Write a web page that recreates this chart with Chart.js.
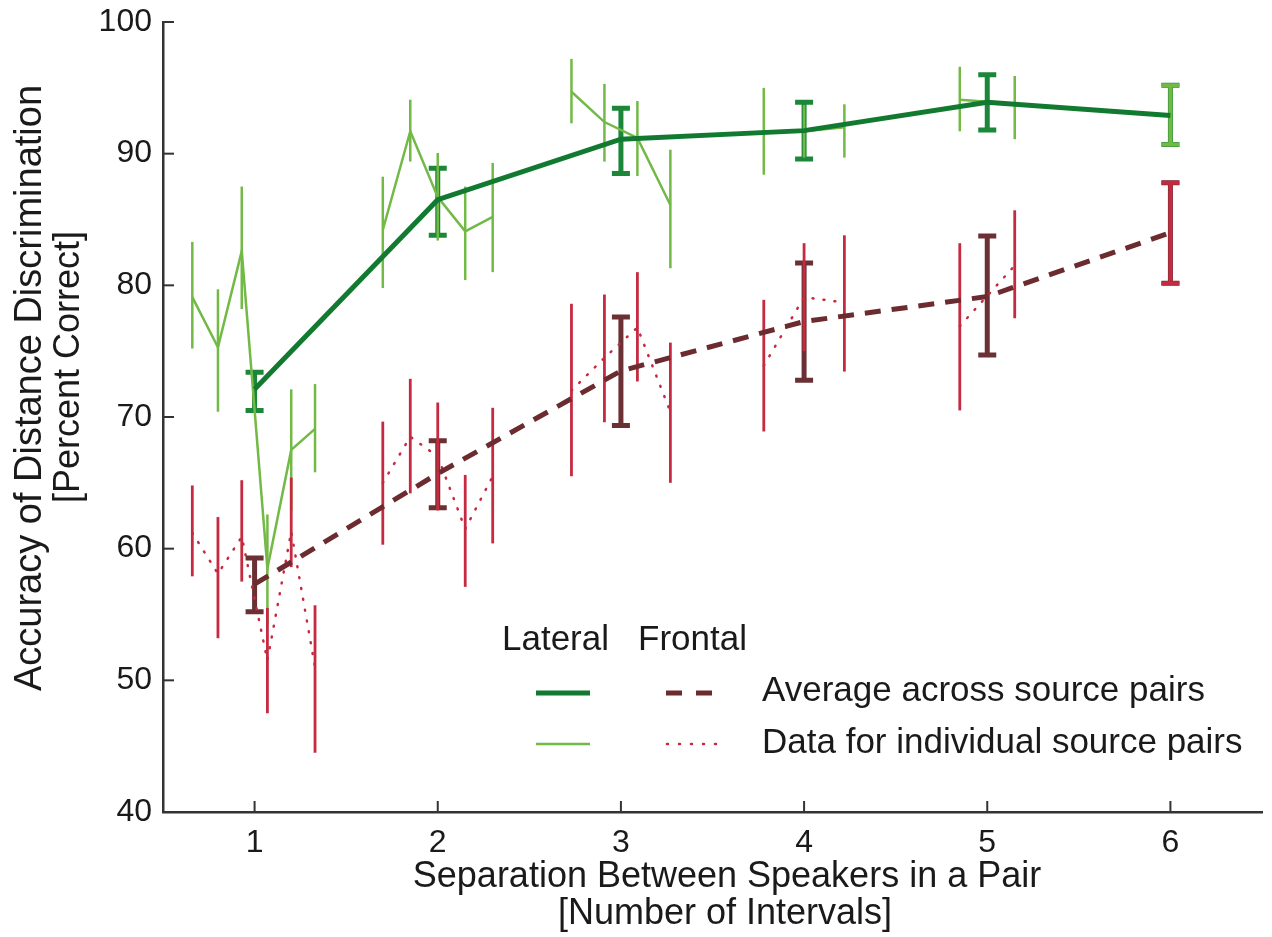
<!DOCTYPE html>
<html>
<head>
<meta charset="utf-8">
<script src="https://cdn.jsdelivr.net/npm/chart.js@4.4.1/dist/chart.umd.min.js"></script>
<style>
html,body{margin:0;padding:0;background:#fff;}
#wrap{width:1272px;height:937px;}
</style>
</head>
<body>
<div id="wrap"><canvas id="chart" width="1272" height="937"></canvas></div>
<script>

// separations and axis ticks
const separations = [1, 2, 3, 4, 5, 6];
const xTicks = [1, 2, 3, 4, 5, 6];
const yTicks = [40, 50, 60, 70, 80, 90, 100];

// averages across source pairs
const lateralMean   = [72.1, 86.5, 91.1, 91.75, 93.9, 92.9];
const lateralMeanLo = [70.5, 83.8, 88.5, 89.6, 91.8, 90.7];
const lateralMeanHi = [73.4, 88.9, 93.45, 93.9, 96.0, 95.2];

const frontalMean   = [57.3, 65.7, 73.5, 77.25, 79.15, 84.0];
const frontalMeanLo = [55.2, 63.1, 69.35, 72.8, 74.7, 80.15];
const frontalMeanHi = [59.3, 68.2, 77.6, 81.7, 83.75, 87.8];

// individual source pairs (grouped by separation)
const pairSep = [1,1,1,1,1,1, 2,2,2,2,2, 3,3,3,3, 4,4,4, 5,5, 6];
const pairX = [0.66, 0.80, 0.93, 1.07, 1.20, 1.33,
               1.70, 1.85, 2.00, 2.15, 2.30,
               2.73, 2.91, 3.09, 3.27,
               3.78, 4.00, 4.22,
               4.85, 5.15,
               6.00];

const lateralPair   = [79.1, 75.3, 82.6, 58.5, 67.5, 69.1,
                       84.2, 91.7, 86.7, 84.1, 85.2,
                       94.7, 92.4, 91.2, 86.1,
                       91.6, 91.7, 92.0,
                       94.1, 93.8,
                       92.9];
const lateralPairLo = [75.2, 70.4, 78.2, 54.2, 62.9, 65.8,
                       79.8, 89.4, 83.4, 80.4, 81.0,
                       92.3, 89.4, 88.3, 81.3,
                       88.4, 89.7, 89.7,
                       91.7, 91.1,
                       90.7];
const lateralPairHi = [83.3, 79.7, 87.5, 62.6, 72.1, 72.5,
                       88.25, 94.1, 90.05, 87.5, 89.3,
                       97.2, 95.3, 94.0, 90.3,
                       95.0, 93.7, 93.75,
                       96.6, 95.9,
                       95.2];

const frontalPair   = [61.2, 58.1, 60.9, 51.5, 61.3, 51.0,
                       65.0, 68.5, 67.0, 61.5, 65.5,
                       72.0, 74.5, 76.8, 70.4,
                       73.9, 79.1, 78.7,
                       76.9, 81.5,
                       84.0];
const frontalPairLo = [57.9, 53.2, 57.5, 47.5, 58.6, 44.5,
                       60.3, 64.2, 62.9, 57.1, 60.4,
                       65.5, 69.6, 72.7, 65.0,
                       68.9, 75.0, 73.45,
                       70.5, 77.5,
                       80.15];
const frontalPairHi = [64.8, 62.4, 65.2, 55.5, 65.4, 55.7,
                       69.65, 72.9, 71.1, 65.6, 70.7,
                       78.6, 79.3, 81.0, 75.65,
                       78.9, 83.2, 83.8,
                       83.2, 85.7,
                       87.8];

const xTitle = ["Separation Between Speakers in a Pair", "[Number of Intervals]"];
const yTitle = ["Accuracy of Distance Discrimination", "[Percent Correct]"];

const FONT = "'Liberation Sans', Arial, sans-serif";

const DARK_GREEN = "#127a30";
const MEAN_GREEN = "#1c8738";
const LIGHT_GREEN = "#72b946";
const MAROON = "#6c2b2f";
const MEAN_MAROON = "#6a3034";
const RED = "#c52a40";

function points(xs, ys, idx){
    return idx.map(i => ({x: xs[i], y: ys[i]}));
}

function buildDatasets(){

    const sets = [];

    sets.push({
        label:"Lateral average",
        data: separations.map((s,i)=>({x:s, y:lateralMean[i]})),
        borderColor: DARK_GREEN,
        borderWidth: 5,
        pointRadius: 0,
        tension: 0
    });

    sets.push({
        label:"Frontal average",
        data: separations.map((s,i)=>({x:s, y:frontalMean[i]})),
        borderColor: MAROON,
        borderWidth: 5,
        borderDash:[16,11],
        pointRadius: 0,
        tension: 0
    });

    separations.forEach(s=>{

        const idx = [];
        pairSep.forEach((p,i)=>{ if(p===s) idx.push(i); });

        if(idx.length < 2) return;

        sets.push({
            label:"Frontal pairs " + s,
            data: points(pairX, frontalPair, idx),
            borderColor: RED,
            borderWidth: 2.5,
            borderDash:[1,10],
            borderCapStyle:"round",
            pointRadius: 0,
            tension: 0
        });

        sets.push({
            label:"Lateral pairs " + s,
            data: points(pairX, lateralPair, idx),
            borderColor: LIGHT_GREEN,
            borderWidth: 2.5,
            pointRadius: 0,
            tension: 0
        });

    });

    return sets;
}

function drawBar(ctx, xs, ys, x, lo, hi, color, width, cap){

    const px = xs.getPixelForValue(x);
    const p1 = ys.getPixelForValue(lo);
    const p2 = ys.getPixelForValue(hi);

    ctx.strokeStyle = color;
    ctx.lineWidth = width;
    ctx.lineCap = "butt";
    ctx.beginPath();
    ctx.moveTo(px, p1);
    ctx.lineTo(px, p2);
    if(cap){
        ctx.moveTo(px - cap, p1);
        ctx.lineTo(px + cap, p1);
        ctx.moveTo(px - cap, p2);
        ctx.lineTo(px + cap, p2);
    }
    ctx.stroke();
}

const errorBars = {
    id:"errorBars",
    beforeDatasetsDraw(chart){

        const ctx = chart.ctx;
        const xs = chart.scales.x;
        const ys = chart.scales.y;

        ctx.save();

        separations.forEach((s,i)=>{
            drawBar(ctx, xs, ys, s, lateralMeanLo[i], lateralMeanHi[i], MEAN_GREEN, 5, 9);
            drawBar(ctx, xs, ys, s, frontalMeanLo[i], frontalMeanHi[i], MEAN_MAROON, 5, 9);
        });

        pairX.forEach((x,i)=>{
            const single = pairSep.filter(p=>p===pairSep[i]).length===1;
            drawBar(ctx, xs, ys, x, lateralPairLo[i], lateralPairHi[i], LIGHT_GREEN, single?4:2.5, single?9:0);
        });

        pairX.forEach((x,i)=>{
            const single = pairSep.filter(p=>p===pairSep[i]).length===1;
            drawBar(ctx, xs, ys, x, frontalPairLo[i], frontalPairHi[i], RED, single?4:2.8, single?9:0);
        });

        ctx.restore();
    }
};

const decor = {
    id:"decor",
    afterDraw(chart){

        const ctx = chart.ctx;
        const xs = chart.scales.x;
        const ys = chart.scales.y;
        const area = chart.chartArea;

        ctx.save();

        // inward ticks
        ctx.strokeStyle = "#333";
        ctx.lineWidth = 2;
        xTicks.forEach(v=>{
            const px = xs.getPixelForValue(v);
            ctx.beginPath();
            ctx.moveTo(px, area.bottom);
            ctx.lineTo(px, area.bottom - 11);
            ctx.stroke();
        });
        yTicks.forEach(v=>{
            const py = ys.getPixelForValue(v);
            ctx.beginPath();
            ctx.moveTo(area.left, py);
            ctx.lineTo(area.left + 11, py);
            ctx.stroke();
        });

        // axis titles
        ctx.fillStyle = "#1a1a1a";
        ctx.font = "36px " + FONT;
        ctx.textAlign = "center";
        ctx.textBaseline = "middle";
        ctx.fillText(xTitle[0], 727, 877);
        ctx.fillText(xTitle[1], 725, 914);

        ctx.save();
        ctx.translate(31, 388);
        ctx.rotate(-Math.PI/2);
        ctx.font = "38px " + FONT;
        ctx.fillText(yTitle[0], 0, 0);
        ctx.restore();
        ctx.save();
        ctx.translate(69, 367);
        ctx.rotate(-Math.PI/2);
        ctx.fillText(yTitle[1], 0, 0);
        ctx.restore();

        // legend
        ctx.textAlign = "left";
        ctx.font = "35px " + FONT;
        ctx.fillText("Lateral", 502, 640);
        ctx.fillText("Frontal", 638, 640);
        ctx.fillText("Average across source pairs", 762, 691);
        ctx.fillText("Data for individual source pairs", 762, 743);

        ctx.lineCap = "butt";
        ctx.strokeStyle = DARK_GREEN;
        ctx.lineWidth = 5;
        ctx.beginPath(); ctx.moveTo(536, 693); ctx.lineTo(590, 693); ctx.stroke();

        ctx.strokeStyle = LIGHT_GREEN;
        ctx.lineWidth = 2.5;
        ctx.beginPath(); ctx.moveTo(536, 744); ctx.lineTo(590, 744); ctx.stroke();

        ctx.strokeStyle = MAROON;
        ctx.lineWidth = 5;
        ctx.setLineDash([16,14]);
        ctx.beginPath(); ctx.moveTo(666, 693); ctx.lineTo(712, 693); ctx.stroke();

        ctx.strokeStyle = RED;
        ctx.lineWidth = 2.5;
        ctx.lineCap = "round";
        ctx.setLineDash([1,11]);
        ctx.beginPath(); ctx.moveTo(667, 744); ctx.lineTo(718, 744); ctx.stroke();

        ctx.restore();
    }
};

new Chart(
    document.getElementById("chart"),
    {
        type:"line",
        data:{ datasets: buildDatasets() },
        plugins:[errorBars, decor],
        options:{
            responsive:false,
            animation:false,
            events:[],
            layout:{ padding:{ top:22, right:10, left:0, bottom:0 } },
            plugins:{
                legend:{ display:false },
                tooltip:{ enabled:false }
            },
            scales:{
                x:{
                    type:"linear",
                    min:0.5,
                    max:6.5,
                    afterBuildTicks: scale => { scale.ticks = xTicks.map(v=>({value:v})); },
                    afterFit: scale => {
                        scale.height = 125;
                        scale.paddingLeft = 0;
                        scale.paddingRight = 0;
                    },
                    grid:{ display:true, drawOnChartArea:false, drawTicks:false },
                    border:{ display:true, color:"#333", width:2.5 },
                    ticks:{
                        padding:12,
                        color:"#1a1a1a",
                        font:{ family:FONT, size:32 },
                        maxRotation:0
                    }
                },
                y:{
                    type:"linear",
                    min:40,
                    max:100,
                    afterBuildTicks: scale => { scale.ticks = yTicks.map(v=>({value:v})); },
                    afterFit: scale => {
                        scale.width = 163;
                        scale.paddingTop = 0;
                        scale.paddingBottom = 0;
                    },
                    grid:{ display:true, drawOnChartArea:false, drawTicks:false },
                    border:{ display:true, color:"#333", width:2.5 },
                    ticks:{
                        padding:11,
                        color:"#1a1a1a",
                        font:{ family:FONT, size:32 }
                    }
                }
            }
        }
    }
);

</script>
</body>
</html>
